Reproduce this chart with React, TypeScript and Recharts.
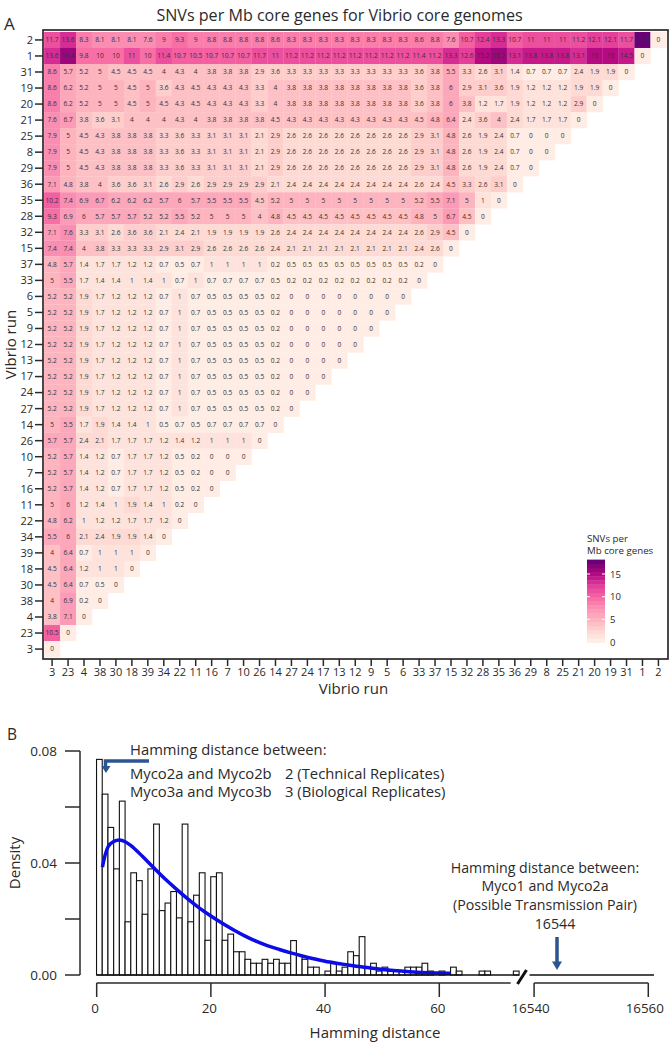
import React from 'react';
import {
  Bar,
  ComposedChart,
  Label,
  Line,
  ReferenceLine,
  Scatter,
  ScatterChart,
  XAxis,
  YAxis,
} from 'recharts';

const FONT = '"Open Sans", sans-serif';
const INK = '#2a2a2a';
const ARROW = '#2b5592';

// panel A: run order along x, the y axis runs the other way
const runs = [
  '3', '23', '4', '38', '30', '18', '39', '34', '22', '11', '16', '7', '10',
  '26', '14', '27', '24', '17', '13', '12', '9', '5', '6', '33', '37', '15',
  '32', '28', '35', '36', '29', '8', '25', '21', '20', '19', '31', '1', '2',
];
const rowRuns = [...runs].reverse();

const snvRows = [
  [11.7, 13.6, 8.3, 8.1, 8.1, 8.1, 7.6, 9, 9.3, 9, 8.8, 8.8, 8.8, 8.8, 8.6, 8.3, 8.3, 8.3, 8.3, 8.3, 8.3, 8.3, 8.3, 8.6, 8.8, 7.6, 10.7, 12.4, 13.3, 10.7, 11, 11, 11, 11.2, 12.1, 12.1, 11.7, 17.6, 0],
  [13.6, 16.4, 9.8, 10, 10, 11, 10, 11.4, 10.7, 10.5, 10.7, 10.7, 10.7, 11.7, 11, 11.2, 11.2, 11.2, 11.2, 11.2, 11.2, 11.2, 11.2, 11.4, 11.2, 13.3, 12.6, 15.2, 16.2, 13.1, 13.8, 13.8, 13.8, 13.1, 15, 15, 14.5, 0],
  [8.6, 5.7, 5.2, 5, 4.5, 4.5, 4.5, 4, 4.3, 4, 3.8, 3.8, 3.8, 2.9, 3.6, 3.3, 3.3, 3.3, 3.3, 3.3, 3.3, 3.3, 3.3, 3.6, 3.8, 5.5, 3.3, 2.6, 3.1, 1.4, 0.7, 0.7, 0.7, 2.4, 1.9, 1.9, 0],
  [8.6, 6.2, 5.2, 5, 5, 4.5, 5, 3.6, 4.3, 4.5, 4.3, 4.3, 4.3, 3.3, 4, 3.8, 3.8, 3.8, 3.8, 3.8, 3.8, 3.8, 3.8, 3.6, 3.8, 6, 2.9, 3.1, 3.6, 1.9, 1.2, 1.2, 1.2, 1.9, 1.9, 0],
  [8.6, 6.2, 5.2, 5, 5, 4.5, 5, 4.5, 4.3, 4.5, 4.3, 4.3, 4.3, 3.3, 4, 3.8, 3.8, 3.8, 3.8, 3.8, 3.8, 3.8, 3.8, 3.6, 3.8, 6, 3.8, 1.2, 1.7, 1.9, 1.2, 1.2, 1.2, 2.9, 0],
  [7.6, 6.7, 3.8, 3.6, 3.1, 4, 4, 4, 4.3, 4, 3.8, 3.8, 3.8, 3.8, 4.5, 4.3, 4.3, 4.3, 4.3, 4.3, 4.3, 4.3, 4.3, 4.5, 4.8, 6.4, 2.4, 3.6, 4, 2.4, 1.7, 1.7, 1.7, 0],
  [7.9, 5, 4.5, 4.3, 3.8, 3.8, 3.8, 3.3, 3.6, 3.3, 3.1, 3.1, 3.1, 2.1, 2.9, 2.6, 2.6, 2.6, 2.6, 2.6, 2.6, 2.6, 2.6, 2.9, 3.1, 4.8, 2.6, 1.9, 2.4, 0.7, 0, 0, 0],
  [7.9, 5, 4.5, 4.3, 3.8, 3.8, 3.8, 3.3, 3.6, 3.3, 3.1, 3.1, 3.1, 2.1, 2.9, 2.6, 2.6, 2.6, 2.6, 2.6, 2.6, 2.6, 2.6, 2.9, 3.1, 4.8, 2.6, 1.9, 2.4, 0.7, 0, 0],
  [7.9, 5, 4.5, 4.3, 3.8, 3.8, 3.8, 3.3, 3.6, 3.3, 3.1, 3.1, 3.1, 2.1, 2.9, 2.6, 2.6, 2.6, 2.6, 2.6, 2.6, 2.6, 2.6, 2.9, 3.1, 4.8, 2.6, 1.9, 2.4, 0.7, 0],
  [7.1, 4.8, 3.8, 4, 3.6, 3.6, 3.1, 2.6, 2.9, 2.6, 2.9, 2.9, 2.9, 2.9, 2.1, 2.4, 2.4, 2.4, 2.4, 2.4, 2.4, 2.4, 2.4, 2.6, 2.4, 4.5, 3.3, 2.6, 3.1, 0],
  [10.2, 7.4, 6.9, 6.7, 6.2, 6.2, 6.2, 5.7, 6, 5.7, 5.5, 5.5, 5.5, 4.5, 5.2, 5, 5, 5, 5, 5, 5, 5, 5, 5.2, 5.5, 7.1, 5, 1, 0],
  [9.3, 6.9, 6, 5.7, 5.7, 5.7, 5.2, 5.2, 5.5, 5.2, 5, 5, 5, 4, 4.8, 4.5, 4.5, 4.5, 4.5, 4.5, 4.5, 4.5, 4.5, 4.8, 5, 6.7, 4.5, 0],
  [7.1, 7.6, 3.3, 3.1, 2.6, 3.6, 3.6, 2.1, 2.4, 2.1, 1.9, 1.9, 1.9, 1.9, 2.6, 2.4, 2.4, 2.4, 2.4, 2.4, 2.4, 2.4, 2.4, 2.6, 2.9, 4.5, 0],
  [7.4, 7.4, 4, 3.8, 3.3, 3.3, 3.3, 2.9, 3.1, 2.9, 2.6, 2.6, 2.6, 2.6, 2.4, 2.1, 2.1, 2.1, 2.1, 2.1, 2.1, 2.1, 2.1, 2.4, 2.6, 0],
  [4.8, 5.7, 1.4, 1.7, 1.7, 1.2, 1.2, 0.7, 0.5, 0.7, 1, 1, 1, 1, 0.2, 0.5, 0.5, 0.5, 0.5, 0.5, 0.5, 0.5, 0.5, 0.2, 0],
  [5, 5.5, 1.7, 1.4, 1.4, 1, 1.4, 1, 0.7, 1, 0.7, 0.7, 0.7, 0.7, 0.5, 0.2, 0.2, 0.2, 0.2, 0.2, 0.2, 0.2, 0.2, 0],
  [5.2, 5.2, 1.9, 1.7, 1.2, 1.2, 1.2, 0.7, 1, 0.7, 0.5, 0.5, 0.5, 0.5, 0.2, 0, 0, 0, 0, 0, 0, 0, 0],
  [5.2, 5.2, 1.9, 1.7, 1.2, 1.2, 1.2, 0.7, 1, 0.7, 0.5, 0.5, 0.5, 0.5, 0.2, 0, 0, 0, 0, 0, 0, 0],
  [5.2, 5.2, 1.9, 1.7, 1.2, 1.2, 1.2, 0.7, 1, 0.7, 0.5, 0.5, 0.5, 0.5, 0.2, 0, 0, 0, 0, 0, 0],
  [5.2, 5.2, 1.9, 1.7, 1.2, 1.2, 1.2, 0.7, 1, 0.7, 0.5, 0.5, 0.5, 0.5, 0.2, 0, 0, 0, 0, 0],
  [5.2, 5.2, 1.9, 1.7, 1.2, 1.2, 1.2, 0.7, 1, 0.7, 0.5, 0.5, 0.5, 0.5, 0.2, 0, 0, 0, 0],
  [5.2, 5.2, 1.9, 1.7, 1.2, 1.2, 1.2, 0.7, 1, 0.7, 0.5, 0.5, 0.5, 0.5, 0.2, 0, 0, 0],
  [5.2, 5.2, 1.9, 1.7, 1.2, 1.2, 1.2, 0.7, 1, 0.7, 0.5, 0.5, 0.5, 0.5, 0.2, 0, 0],
  [5.2, 5.2, 1.9, 1.7, 1.2, 1.2, 1.2, 0.7, 1, 0.7, 0.5, 0.5, 0.5, 0.5, 0.2, 0],
  [5, 5.5, 1.7, 1.9, 1.4, 1.4, 1, 0.5, 0.7, 0.5, 0.7, 0.7, 0.7, 0.7, 0],
  [5.7, 5.7, 2.4, 2.1, 1.7, 1.7, 1.7, 1.2, 1.4, 1.2, 1, 1, 1, 0],
  [5.2, 5.7, 1.4, 1.2, 0.7, 1.7, 1.7, 1.2, 0.5, 0.2, 0, 0, 0],
  [5.2, 5.7, 1.4, 1.2, 0.7, 1.7, 1.7, 1.2, 0.5, 0.2, 0, 0],
  [5.2, 5.7, 1.4, 1.2, 0.7, 1.7, 1.7, 1.2, 0.5, 0.2, 0],
  [5, 6, 1.2, 1.4, 1, 1.9, 1.4, 1, 0.2, 0],
  [4.8, 6.2, 1, 1.2, 1.2, 1.7, 1.7, 1.2, 0],
  [5.5, 6, 2.1, 2.4, 1.9, 1.9, 1.4, 0],
  [4, 6.4, 0.7, 1, 1, 1, 0],
  [4.5, 6.4, 1.2, 1, 1, 0],
  [4.5, 6.4, 0.7, 0.5, 0],
  [4, 6.9, 0.2, 0],
  [3.8, 7.1, 0],
  [10.5, 0],
  [0],
];

// value -> colour
const colorStops: [number, number[]][] = [
  [0, [255, 240, 232]],
  [2.5, [254, 216, 210]],
  [5, [253, 180, 190]],
  [7.5, [250, 147, 180]],
  [10, [247, 104, 161]],
  [12.5, [226, 60, 155]],
  [15, [185, 10, 130]],
  [18.3, [90, 0, 115]],
];
const legendTicks = [0, 5, 10, 15];
const LEGEND_BAND = 0.915;

const heatColor = (v: number) => {
  const band = Math.floor(v / LEGEND_BAND) * LEGEND_BAND + LEGEND_BAND / 2;
  let i = 0;
  while (i < colorStops.length - 2 && band > colorStops[i + 1][0]) i++;
  const [a, ca] = colorStops[i];
  const [b, cb] = colorStops[i + 1];
  const t = Math.min(1, (band - a) / (b - a));
  const c = ca.map((p, k) => Math.round(p + (cb[k] - p) * t));
  return `rgb(${c[0]},${c[1]},${c[2]})`;
};

const cells = snvRows.flatMap((row, y) => row.map((value, x) => ({ x, y, value })));
const legendBands = Array.from({ length: 20 }, (_, i) => i * LEGEND_BAND);

// panel B: density per one-wide bin, starting at hamming distance 0
const hammingBins = [
  0.077, 0.0646, 0.0527, 0.0379, 0.0621, 0.019, 0.0365, 0.0337, 0.0217, 0.0379,
  0.0539, 0.023, 0.0257, 0.0298, 0.0204, 0.0539, 0.019, 0.0285, 0.0365, 0.0124,
  0.0351, 0.0365, 0.0124, 0.0146, 0.0083, 0.0083, 0.0056, 0.0042, 0.0042, 0.0056,
  0.0042, 0.0056, 0.0042, 0.0042, 0.0123, 0.0071, 0.0056, 0.0028, 0.0028, 0,
  0.0014, 0.0042, 0.0014, 0.0028, 0.0083, 0.0069, 0.0137, 0.0028, 0.0042, 0.0014,
  0.0028, 0.0014, 0.0014, 0.0014, 0.0028, 0.0028, 0.0028, 0.0042, 0.0014, 0,
  0.0014, 0, 0.0028, 0.0014, 0, 0, 0, 0.0014, 0.0014, 0, 0, 0, 0, 0.0014,
];
const curveX = [1, 1.5, 2, 3, 4, 5, 6, 8, 10, 12, 14, 16, 18, 20, 22, 24, 26, 28, 30, 32, 34, 36, 38, 40, 42, 44, 46, 48, 50, 52, 54, 56, 58, 60, 62];
const curveY = [
  0.0385, 0.043, 0.0458, 0.0477, 0.0482, 0.0476, 0.0462, 0.0424, 0.0383, 0.0343,
  0.0306, 0.0271, 0.0239, 0.0211, 0.0185, 0.0161, 0.0139, 0.012, 0.0104, 0.0091,
  0.0079, 0.0068, 0.0058, 0.0049, 0.0042, 0.0036, 0.003, 0.0025, 0.002, 0.0016,
  0.0013, 0.001, 0.0008, 0.0007, 0.0006,
];
const hammingTicks = [0, 20, 40, 60, 16540, 16560];
const densityTicks = [0, 0.02, 0.04, 0.06, 0.08];

// the x axis is broken, 16540 sits where 76.6 would be
const BREAK_AT = 76.6;
const toAxisX = (h: number) => (h > 1000 ? h - 16540 + BREAK_AT : h);

const histRows = hammingBins.map((density, i) => ({ x: i + 0.5, density }));
const curveRows = curveX.map((x, i) => ({ x, density: curveY[i] }));

const CELL = 16;
const BIN_WIDTH = 5.71;

const HeatCell = (props: any) => {
  const { cx, cy, payload } = props;
  return (
    <g>
      <rect x={cx - CELL / 2} y={cy - CELL / 2} width={CELL + 0.2} height={CELL + 0.2} fill={heatColor(payload.value)} />
      <text x={cx} y={cy + 2.3} textAnchor="middle" fontSize={6.6} fontFamily={FONT} fill="#333">
        {payload.value}
      </text>
    </g>
  );
};

// the library rounds bar widths, so keep its centre and draw the full bin
const HistBin = (props: any) => {
  const { x, y, width, height, payload } = props;
  if (!payload.density) return null;
  return (
    <rect
      x={x + width / 2 - BIN_WIDTH / 2}
      y={y}
      width={BIN_WIDTH}
      height={height}
      fill="#fff"
      stroke="#111"
      strokeWidth={1.1}
    />
  );
};

const HammingTick = (props: any) => {
  const { x, y, index } = props;
  return (
    <g>
      <line x1={x} x2={x} y1={y} y2={y + 14} stroke={INK} strokeWidth={1.5} />
      <text x={x - (index > 3 ? 3.5 : 1.5)} y={y + 30} textAnchor="middle" fontSize={13.4} fontFamily={FONT} fill={INK}>
        {hammingTicks[index]}
      </text>
    </g>
  );
};

const txt = (size: number) => ({ fontFamily: FONT, fontSize: size, fill: INK });

export default function App() {
  return (
    <div style={{ position: 'absolute', left: 0, top: 0, width: 669, height: 1043, background: '#fff', overflow: 'hidden' }}>
      <div style={{ position: 'absolute', left: 0, top: 0 }}>
        <ScatterChart width={669} height={700} margin={{ top: 30, right: 1, bottom: 1, left: 15 }}>
          <XAxis
            type="number"
            dataKey="x"
            domain={[-0.57, 38.6]}
            ticks={runs.map((_, i) => i)}
            interval={0}
            tickFormatter={(i: number) => runs[i]}
            height={40}
            axisLine={false}
            tickSize={7}
            tickMargin={2}
            tickLine={{ stroke: INK, strokeWidth: 1.5 }}
            tick={{ ...txt(11) }}
          >
            <Label value="Vibrio run" position="insideBottom" offset={5} dx={-2} style={txt(15)} />
          </XAxis>
          <YAxis
            type="number"
            dataKey="y"
            reversed
            domain={[-0.62, 38.62]}
            ticks={rowRuns.map((_, i) => i)}
            interval={0}
            tickFormatter={(i: number) => rowRuns[i]}
            width={28}
            axisLine={false}
            tickSize={8}
            tickMargin={2}
            tickLine={{ stroke: INK, strokeWidth: 1.5 }}
            tick={{ ...txt(11) }}
          >
            <Label value="Vibrio run" angle={-90} position="insideLeft" offset={-4} style={{ ...txt(15), textAnchor: 'middle' }} />
          </YAxis>
          <Scatter data={cells} shape={HeatCell} isAnimationActive={false} />
        </ScatterChart>
      </div>

      <div style={{ position: 'absolute', left: 0, top: 730 }}>
        <ComposedChart width={669} height={313} data={histRows} margin={{ top: 21, right: 15, bottom: 0, left: 0 }}>
          <XAxis
            type="number"
            dataKey="x"
            domain={[-2.92, 97.6]}
            ticks={hammingTicks.map(toAxisX)}
            interval={0}
            height={68}
            axisLine={false}
            tickLine={false}
            tickSize={0}
            tickMargin={8}
            tick={HammingTick}
          >
            <Label value="Hamming distance" position="insideBottom" offset={5} dx={8} style={txt(15)} />
          </XAxis>
          <YAxis
            type="number"
            domain={[0, 0.08]}
            ticks={densityTicks}
            interval={0}
            tickFormatter={(v: number) => (v === 0.02 || v === 0.06 ? '' : v.toFixed(2))}
            width={80}
            axisLine={{ stroke: INK, strokeWidth: 1.5 }}
            tickSize={15}
            tickMargin={8}
            tickLine={{ stroke: INK, strokeWidth: 1.5 }}
            tick={{ ...txt(13.5) }}
          >
            <Label value="Density" angle={-90} position="insideLeft" offset={15} style={{ ...txt(15), textAnchor: 'middle' }} />
          </YAxis>
          <Bar dataKey="density" barSize={BIN_WIDTH} shape={HistBin} isAnimationActive={false} />
          <Line
            data={curveRows}
            dataKey="density"
            type="monotone"
            stroke="#0c0ce6"
            strokeWidth={3.5}
            dot={false}
            isAnimationActive={false}
          />
          <ReferenceLine segment={[{ x: 0, y: 0 }, { x: 74, y: 0 }]} stroke="#111" strokeWidth={1.5} ifOverflow="visible" />
          <ReferenceLine segment={[{ x: 75.8, y: 0 }, { x: 97.6, y: 0 }]} stroke="#111" strokeWidth={1.5} ifOverflow="visible" />
          <ReferenceLine segment={[{ x: 0, y: -0.00286 }, { x: 72.5, y: -0.00286 }]} stroke={INK} strokeWidth={1.5} ifOverflow="visible" />
          <ReferenceLine segment={[{ x: BREAK_AT, y: -0.00286 }, { x: BREAK_AT + 20, y: -0.00286 }]} stroke={INK} strokeWidth={1.5} ifOverflow="visible" />
        </ComposedChart>
      </div>

      {/* titles, notes, arrows and the colour key sit over both charts */}
      <svg width={669} height={1043} style={{ position: 'absolute', left: 0, top: 0, pointerEvents: 'none' }}>
        <text x={339.5} y={21} textAnchor="middle" {...txt(16.1)}>SNVs per Mb core genes for Vibrio core genomes</text>
        <text x={4} y={30} {...txt(17)}>A</text>
        <text x={7} y={740} {...txt(15.5)}>B</text>
        <rect x={43} y={30} width={625} height={629} fill="none" stroke={INK} strokeWidth={1.7} />

        <text x={587} y={542} {...txt(9.7)}>SNVs per</text>
        <text x={587} y={554} {...txt(9.7)}>Mb core genes</text>
        {legendBands.map((v) => (
          <rect
            key={v}
            x={587}
            y={642.5 - (v + LEGEND_BAND) * 4.53}
            width={18}
            height={LEGEND_BAND * 4.53 + 0.3}
            fill={heatColor(v + 0.01)}
          />
        ))}
        {legendTicks.map((t) => (
          <g key={t}>
            {t > 0 && <line x1={587} x2={590} y1={642 - t * 4.53} y2={642 - t * 4.53} stroke="#fff" />}
            {t > 0 && <line x1={602} x2={605} y1={642 - t * 4.53} y2={642 - t * 4.53} stroke="#fff" />}
            <text x={610} y={645.5 - t * 4.53} {...txt(9.5)}>{t}</text>
          </g>
        ))}

        <text x={130} y={755} {...txt(14.8)}>Hamming distance between:</text>
        <text x={130} y={779} {...txt(14.8)}>Myco2a and Myco2b</text>
        <text x={285} y={779} {...txt(14.8)}>2 (Technical Replicates)</text>
        <text x={130} y={797} {...txt(14.8)}>Myco3a and Myco3b</text>
        <text x={285} y={797} {...txt(14.8)}>3 (Biological Replicates)</text>
        <path d="M149 761 H105.5 V767" fill="none" stroke={ARROW} strokeWidth={3.5} />
        <path d="M101.5 766 H110.5 L106 773 Z" fill={ARROW} />

        <text x={545} y={873} textAnchor="middle" {...txt(14.2)}>Hamming distance between:</text>
        <text x={545} y={891} textAnchor="middle" {...txt(14.2)}>Myco1 and Myco2a</text>
        <text x={545} y={910} textAnchor="middle" {...txt(14.2)}>(Possible Transmission Pair)</text>
        <text x={555} y={929} textAnchor="middle" {...txt(14.2)}>16544</text>
        <line x1={557} x2={557} y1={937} y2={962} stroke={ARROW} strokeWidth={3.5} />
        <path d="M552 961.5 H562 L557 970 Z" fill={ARROW} />
        <line x1={517.5} y1={984} x2={526.5} y2={970} stroke="#111" strokeWidth={3} />
      </svg>
    </div>
  );
}
